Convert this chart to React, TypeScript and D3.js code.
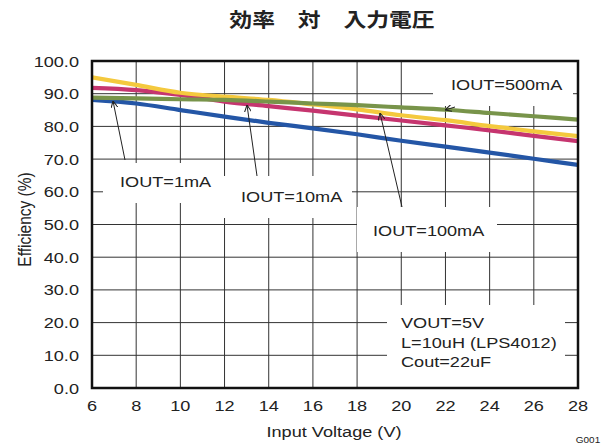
import React from "react";
import * as d3 from "d3";

const vin = [6, 8, 10, 12, 14, 16, 18, 20, 22, 24, 26, 28];
const eff1mA = [88.1, 87.0, 85.0, 83.0, 81.1, 79.4, 77.6, 75.6, 73.8, 72.0, 70.1, 68.2];
const eff10mA = [91.8, 91.1, 89.6, 87.6, 86.2, 84.8, 83.3, 81.8, 80.3, 78.8, 77.1, 75.5];
const eff100mA = [95.0, 92.7, 90.3, 89.1, 88.1, 86.7, 85.2, 83.4, 81.9, 80.1, 78.5, 77.0];
const eff500mA = [88.8, 88.6, 88.3, 88.1, 87.6, 87.0, 86.5, 85.8, 85.1, 84.1, 83.1, 82.1];

const xTicks = [6, 8, 10, 12, 14, 16, 18, 20, 22, 24, 26, 28];
const yTicks = [0, 10, 20, 30, 40, 50, 60, 70, 80, 90, 100];

const seriesList = [
  { name: "1mA", values: eff1mA, color: "#2456A6" },
  { name: "10mA", values: eff10mA, color: "#C6356F" },
  { name: "100mA", values: eff100mA, color: "#F4C93E" },
  { name: "500mA", values: eff500mA, color: "#78944A" },
];

const W = 616, H = 447;
const L = 92, R = 578, T = 61, B = 388;
const font = "'Liberation Sans', Arial, sans-serif";
const SX = 1.17;

function Txt({ x, y, anchor = "start", size = 15.5, children, family = font, weight = "normal" }: any) {
  return (
    <text
      transform={`translate(${x},${y}) scale(${SX},1)`}
      textAnchor={anchor}
      fontSize={size}
      fontFamily={family}
      fontWeight={weight}
      fill="#222"
    >
      {children}
    </text>
  );
}

export default function App() {
  const x = d3.scaleLinear().domain([6, 28]).range([L, R]);
  const y = d3.scaleLinear().domain([0, 100]).range([B, T]);
  const line = d3
    .line<number>()
    .x((_, i) => x(vin[i]))
    .y((d) => y(d))
    .curve(d3.curveMonotoneX);

  const boxes = [
    { x0: 103, y0: 163, x1: 224, y1: 203 },
    { x0: 224, y0: 176, x1: 352, y1: 218 },
    { x0: 357, y0: 207, x1: 497, y1: 252 },
    { x0: 433, y0: 62, x1: 573, y1: 106 },
    { x0: 387, y0: 305, x1: 565, y1: 387 },
  ];

  const arrows = [
    { x1: 125, y1: 160, x2: 113, y2: 101 },
    { x1: 257, y1: 176, x2: 247, y2: 105 },
    { x1: 402, y1: 207, x2: 380, y2: 113 },
    { x1: 455, y1: 107, x2: 445, y2: 110 },
  ];

  return (
    <svg width={W} height={H} style={{ position: "absolute", left: 0, top: 0, background: "#fff" }}>
      <defs>
        <clipPath id="plotclip">
          <rect x={L} y={T} width={R - L} height={B - T} />
        </clipPath>
        <marker id="ah" viewBox="0 0 10 10" refX="10" refY="5" markerWidth="7" markerHeight="7" orient="auto">
          <path d="M0,0 L10,5 L0,10" fill="none" stroke="#222" strokeWidth="1.5" />
        </marker>
      </defs>
      <Txt x={332} y={27} anchor="middle" size={19.5} weight="bold" family="'Noto Sans CJK JP', sans-serif">
        効率　対　入力電圧
      </Txt>

      {/* grid */}
      <g stroke="#333" strokeWidth={1}>
        {xTicks.slice(1, -1).map((t) => (
          <line key={"vx" + t} x1={x(t)} x2={x(t)} y1={T} y2={B} />
        ))}
        {yTicks.slice(1, -1).map((t) => (
          <line key={"hy" + t} x1={L} x2={R} y1={y(t)} y2={y(t)} />
        ))}
      </g>

      {/* label boxes */}
      {boxes.map((b, i) => (
        <rect key={"b" + i} x={b.x0} y={b.y0} width={b.x1 - b.x0} height={b.y1 - b.y0} fill="#fff" />
      ))}

      {/* series */}
      <g clipPath="url(#plotclip)">
        {seriesList.map((s) => (
          <path key={s.name} d={line(s.values) || ""} fill="none" stroke={s.color} strokeWidth={4.2} strokeLinejoin="round" />
        ))}
      </g>

      {/* arrows */}
      {arrows.map((a, i) => (
        <line key={"a" + i} x1={a.x1} y1={a.y1} x2={a.x2} y2={a.y2} stroke="#222" strokeWidth={1} markerEnd="url(#ah)" />
      ))}

      {/* frame */}
      <rect x={L} y={T} width={R - L} height={B - T} fill="none" stroke="#111" strokeWidth={2.5} />

      {/* tick labels */}
      {yTicks.map((t) => (
        <Txt key={"yl" + t} x={79} y={y(t) + 5.5} anchor="end">{t.toFixed(1)}</Txt>
      ))}
      {xTicks.map((t) => (
        <Txt key={"xl" + t} x={x(t)} y={411} anchor="middle">{t}</Txt>
      ))}

      <Txt x={334} y={437} anchor="middle">Input Voltage (V)</Txt>
      <text
        transform={`translate(31,${(T + B) / 2 - 5}) rotate(-90) scale(1,${SX})`}
        textAnchor="middle"
        fontFamily={font}
        fontSize={15.5}
        fill="#222"
      >
        Efficiency (%)
      </text>
      <Txt x={588} y={443} anchor="middle" size={8.5}>G001</Txt>

      {/* annotations */}
      <Txt x={120} y={187}>IOUT=1mA</Txt>
      <Txt x={241} y={202}>IOUT=10mA</Txt>
      <Txt x={373} y={236}>IOUT=100mA</Txt>
      <Txt x={451} y={90}>IOUT=500mA</Txt>
      <Txt x={401} y={328}>VOUT=5V</Txt>
      <Txt x={401} y={348}>L=10uH (LPS4012)</Txt>
      <Txt x={401} y={367}>Cout=22uF</Txt>
    </svg>
  );
}
